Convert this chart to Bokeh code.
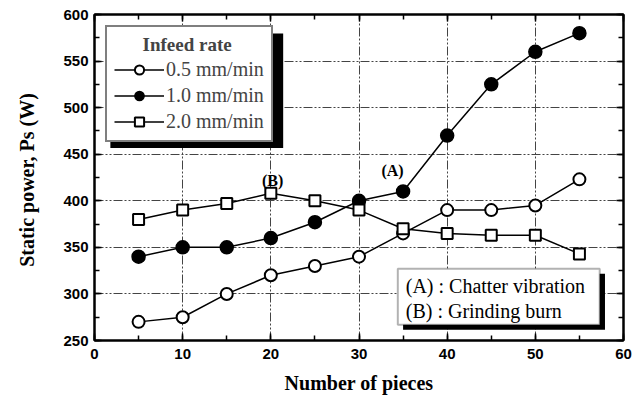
from bokeh.plotting import figure
from bokeh.models import (LinearAxis, Legend, LegendItem, BoxAnnotation, Label,
                          SingleIntervalTicker, Range1d)
from bokeh.embed import file_html
from bokeh.resources import INLINE

pieces = [5, 10, 15, 20, 25, 30, 35, 40, 45, 50, 55]
rate_05 = [270, 275, 300, 320, 330, 340, 365, 390, 390, 395, 423]
rate_10 = [340, 350, 350, 360, 377, 400, 410, 470, 525, 560, 580]
rate_20 = [380, 390, 397, 408, 400, 390, 370, 365, 363, 363, 343]
series_labels = ["0.5 mm/min", "1.0 mm/min", "2.0 mm/min"]

SERIF = "Liberation Serif"
SANS = "Liberation Sans"

p = figure(width=640, height=396, x_range=Range1d(0, 60), y_range=Range1d(250, 600),
           output_backend="svg", toolbar_location=None,
           min_border_left=94, min_border_right=17, min_border_top=14, min_border_bottom=56)
p.background_fill_color = "white"
p.outline_line_color = "black"
p.outline_line_width = 2

xt = SingleIntervalTicker(interval=10, num_minor_ticks=2)
yt = SingleIntervalTicker(interval=50, num_minor_ticks=2)
p.xaxis.ticker = xt
p.yaxis.ticker = yt


def style_ticks(ax):
    ax.axis_line_width = 2
    ax.axis_line_color = "black"
    ax.major_tick_in = 7
    ax.major_tick_out = 0
    ax.minor_tick_in = 5
    ax.minor_tick_out = 0
    ax.major_tick_line_width = 1.5
    ax.minor_tick_line_width = 1.5
    ax.major_tick_line_color = "black"
    ax.minor_tick_line_color = "black"


for ax in [p.xaxis[0], p.yaxis[0]]:
    style_ticks(ax)
    ax.major_label_text_font = SANS
    ax.major_label_text_font_style = "bold"
    ax.major_label_text_font_size = "15px"
    ax.major_label_text_color = "black"
    ax.axis_label_text_font = SERIF
    ax.axis_label_text_font_style = "bold"
    ax.axis_label_text_font_size = "20px"
    ax.axis_label_text_color = "black"
p.xaxis.axis_label = "Number of pieces"
p.yaxis.axis_label = "Static power, Ps  (W)"
p.xaxis.major_label_standoff = 8
p.yaxis.major_label_standoff = 6
p.xaxis.axis_label_standoff = 10
p.yaxis.axis_label_standoff = 22

for loc, tk, vals in [("above", SingleIntervalTicker(interval=10, num_minor_ticks=2), range(0, 61, 10)),
                      ("right", SingleIntervalTicker(interval=50, num_minor_ticks=2), range(250, 601, 50))]:
    ax = LinearAxis(ticker=tk)
    style_ticks(ax)
    ax.major_label_overrides = {v: "" for v in vals}
    ax.major_label_standoff = 0
    p.add_layout(ax, loc)

for g in [p.xgrid[0], p.ygrid[0]]:
    g.grid_line_color = "#444444"
    g.grid_line_width = 1
    g.grid_line_dash = "9 2 2 2 2 2"

# series
r1l = p.line(pieces, rate_05, line_color="black", line_width=1.5)
r1s = p.scatter(pieces, rate_05, marker="circle", size=12, fill_color="white",
                line_color="black", line_width=2)
r2l = p.line(pieces, rate_10, line_color="black", line_width=1.5)
r2s = p.scatter(pieces, rate_10, marker="circle", size=13, fill_color="black",
                line_color="black", line_width=1.5)
r3l = p.line(pieces, rate_20, line_color="black", line_width=1.5)
r3s = p.scatter(pieces, rate_20, marker="square", size=11, fill_color="white",
                line_color="black", line_width=2)

# legend shadow
p.add_layout(BoxAnnotation(left=1.8, right=21.4, top=579.7, bottom=456.6,
                           fill_color="black", fill_alpha=1, line_alpha=0))

legend = Legend(items=[LegendItem(label=series_labels[0], renderers=[r1l, r1s]),
                       LegendItem(label=series_labels[1], renderers=[r2l, r2s]),
                       LegendItem(label=series_labels[2], renderers=[r3l, r3s])],
                location="top_left", margin=11)
legend.title = "\u00a0\u00a0\u00a0\u00a0\u00a0\u00a0Infeed rate"
legend.title_text_font = SERIF
legend.title_text_font_style = "bold"
legend.title_text_font_size = "19px"
legend.title_standoff = 2
legend.label_text_font = SERIF
legend.label_text_font_size = "20px"
legend.glyph_width = 50
legend.glyph_height = 23
legend.label_height = 23
legend.label_standoff = 2
legend.spacing = 3
legend.padding = 7
legend.border_line_color = "black"
legend.border_line_width = 2
legend.background_fill_color = "white"
legend.background_fill_alpha = 1
p.add_layout(legend, "center")

# second note box
p.add_layout(BoxAnnotation(left=35.0, right=57.9, top=321.6, bottom=261.6,
                           fill_color="black", fill_alpha=1, line_alpha=0))
p.add_layout(BoxAnnotation(left=34.4, right=57.3, top=327, bottom=267,
                           fill_color="white", fill_alpha=1,
                           line_color="black", line_width=2))
notes = ["(A) : Chatter vibration", "(B) : Grinding burn"]
for txt, yy in zip(notes, [309, 282]):
    p.add_layout(Label(x=35.3, y=yy, text=txt, text_font=SERIF, text_font_size="20px",
                       text_baseline="middle", text_align="left", text_color="black"))

for txt, xx, yy in [("(A)", 33.8, 423), ("(B)", 20.2, 413)]:
    p.add_layout(Label(x=xx, y=yy, text=txt, text_font=SERIF, text_font_style="bold",
                       text_font_size="16px", text_baseline="bottom", text_align="center",
                       text_color="black"))

open("out.html", "w").write(file_html(p, INLINE))
